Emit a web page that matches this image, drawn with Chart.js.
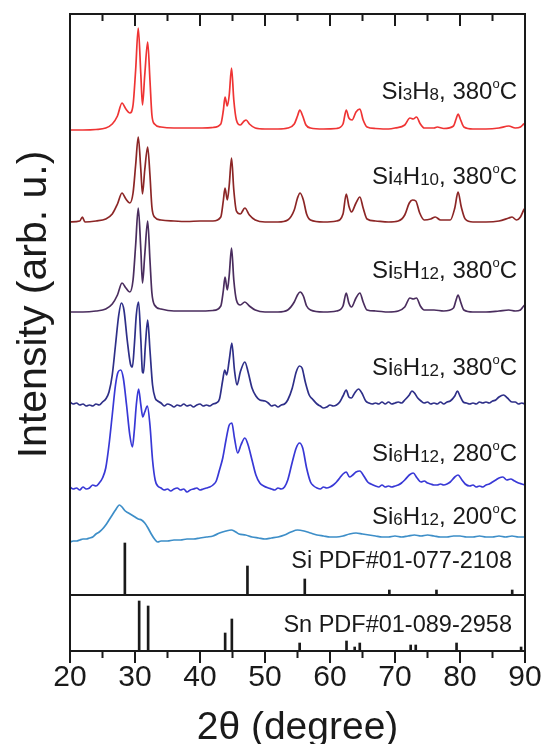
<!DOCTYPE html>
<html>
<head>
<meta charset="utf-8">
<title>XRD patterns</title>
<script src="https://cdn.jsdelivr.net/npm/chart.js@4.4.0/dist/chart.umd.min.js"></script>
<style>
  html, body { margin: 0; padding: 0; background: #fff; }
</style>
</head>
<body>
<canvas id="xrd" width="544" height="744"></canvas>
<script>
// 2theta (degree), intensity (arb. u., stacked offsets included)
const si3h8_380 = [[20,465],[22,465],[24,465.5],[25.5,467],[26.5,471],[27.3,479],[28,492],[28.6,486],[29.2,482],[29.7,490],[30.1,525],[30.5,567],[30.9,520],[31.15,490],[31.5,520],[31.95,553],[32.3,515],[32.6,480],[33,471],[34,468],[36,467],[38,467],[40,467],[42,467.5],[43.2,471],[43.6,485],[43.85,498],[44.2,489],[44.5,500],[44.85,527],[45.2,495],[45.6,475],[46.2,470],[46.8,474],[47.1,475],[47.6,471],[48.5,467],[50,466],[52,466],[53.5,467],[54.5,471],[55,479],[55.35,485],[55.8,479],[56.3,470],[57,467],[59,466],[61,466.5],[62,471],[62.5,485],[62.9,477],[63.4,475],[64,483],[64.6,486],[65.1,475],[65.7,468],[67,466.5],[69,466],[70,467],[71.5,470],[72.3,477],[72.8,476],[73.3,478],[73.9,471],[74.5,467],[76,467],[76.5,468],[77.5,466.5],[79,469],[79.4,476],[79.7,481],[80.1,475],[80.6,468],[82,466],[84,466],[86,467],[87.5,469],[88.5,467],[89.3,468],[89.8,471],[90,472]];

const si4h10_380 = [[20,373],[21.5,374],[21.9,378],[22.3,373],[24,374],[25.5,376],[26.5,381],[27.3,391],[28,402],[28.6,396],[29.2,392],[29.7,402],[30.1,430],[30.5,458],[30.9,425],[31.15,401],[31.5,425],[31.95,448],[32.3,420],[32.6,388],[33,378],[34,375],[36,374],[38,373.5],[40,374],[42,374],[43.2,378],[43.6,395],[43.85,407],[44.2,395],[44.5,410],[44.85,437],[45.2,405],[45.6,384],[46.2,381],[46.9,387],[47.6,380],[48.5,375],[50,373],[52,373],[53.5,375],[54.5,385],[55,397],[55.4,402],[55.9,395],[56.4,381],[57,375],[59,373],[61,374],[62,381],[62.5,401],[62.9,389],[63.3,383],[64,392],[64.6,398],[65.1,387],[65.7,376],[67,374],[69,373],[70.5,374],[71.5,380],[72.2,392],[72.7,395],[73.2,394],[73.8,382],[74.5,375],[75.5,376],[76.2,378],[77,375],[78.5,375],[79.2,387],[79.7,403],[80.2,388],[80.8,376],[82,373],[84,373],[86,374],[87.5,377],[88,378],[88.7,375],[89.3,378],[89.8,385],[90,387]];

const si5h12_380 = [[20,283],[22,283],[24,284],[25.5,286],[26.5,291],[27.3,300],[28,312],[28.6,307],[29.2,303],[29.7,315],[30.1,350],[30.5,387],[30.9,345],[31.15,312],[31.5,340],[31.95,374],[32.3,335],[32.6,302],[33,290],[34,286],[36,284],[38,284],[40,284],[42,284.5],[43.2,289],[43.6,305],[43.85,318],[44.2,305],[44.5,320],[44.85,347],[45.2,315],[45.6,295],[46.2,290],[46.9,293],[47.6,289],[48.5,285],[50,283],[52,283],[53.5,285],[54.5,293],[55,300],[55.4,303],[55.9,299],[56.4,289],[57,285],[59,283],[61,284],[62,289],[62.5,302],[62.9,292],[63.3,288],[64,297],[64.6,302],[65.1,293],[65.7,285],[67,284],[69,283],[70.5,284],[71.5,288],[72.3,297],[72.8,296],[73.3,297],[73.9,289],[74.5,285],[76,285],[77.5,284],[79,287],[79.4,295],[79.7,300],[80.1,293],[80.6,285],[82,283],[84,283],[86,284],[87.5,285],[88.5,284],[89.3,285],[89.8,289],[90,290]];

const si6h12_380 = [[20,193],[20.5,191],[21,192],[21.5,190],[22,191],[22.5,189],[23,190],[23.5,189],[24,191],[24.5,190],[25,193],[25.5,196],[26,203],[26.5,220],[27,250],[27.5,280],[27.9,292],[28.3,285],[28.8,255],[29.3,231],[29.6,228],[29.9,250],[30.2,280],[30.55,293],[30.9,255],[31.15,223],[31.3,222],[31.6,250],[31.95,275],[32.3,245],[32.7,210],[33.1,197],[33.5,194],[34,192],[34.5,189],[35,191],[35.5,190],[36,188],[36.5,190],[37,189],[37.5,191],[38,189],[38.5,190],[39,188],[39.5,190],[40,191],[40.5,189],[41,190],[41.5,189],[42,191],[42.5,192],[43,196],[43.5,215],[43.8,225],[44.1,220],[44.5,235],[44.9,252],[45.3,225],[45.7,210],[46.2,223],[46.9,233],[47.4,223],[48,207],[48.6,199],[49.2,195],[50,194],[50.5,192],[51,189],[51.5,190],[52,188],[52.5,190],[53,191],[53.5,195],[54.2,207],[54.8,223],[55.3,229],[55.7,227],[56.2,213],[56.8,200],[57.3,196],[58,191],[58.5,189],[59,187],[59.5,188],[60,190],[60.5,189],[61,190],[61.5,193],[62,199],[62.5,205],[62.9,198],[63.3,197],[63.8,202],[64.4,206],[64.9,202],[65.5,194],[66,192],[66.5,191],[67,192],[67.5,191],[68,193],[68.5,191],[69,193],[69.5,191],[70,192],[70.5,193],[71,192],[71.5,195],[72.2,200],[72.6,204],[73,202],[73.5,197],[74,194],[74.5,192],[75,193],[75.5,191],[76,192],[76.5,191],[77,193],[77.5,191],[78,193],[78.5,194],[79.2,199],[79.6,204],[80,199],[80.5,193],[81,192],[81.5,191],[82,192],[82.5,191],[83,193],[83.5,192],[84,193],[84.5,192],[85,194],[85.5,195],[86,198],[86.7,200],[87.3,197],[88,193],[88.5,193],[89,191],[89.5,192],[90,191]];

const si6h12_280 = [[20,108],[20.5,106],[21,107],[21.5,105],[22,108],[22.5,106],[23,107],[23.5,110],[24,109],[24.5,112],[25,117],[25.5,127],[26,150],[26.5,180],[27,210],[27.4,223],[27.8,225],[28.2,217],[28.7,190],[29.2,160],[29.6,148],[29.9,165],[30.2,190],[30.55,206],[30.9,190],[31.2,178],[31.5,183],[31.9,189],[32.3,170],[32.7,135],[33.1,115],[33.5,109],[34,107],[34.5,105],[35,106],[35.5,104],[36,106],[36.5,107],[37,105],[37.5,106],[38,103],[38.5,105],[39,106],[39.5,107],[40,105],[40.5,106],[41,107],[41.5,108],[42,110],[42.5,114],[43,125],[43.5,137],[44,155],[44.5,170],[44.9,172],[45.3,157],[45.8,142],[46.3,150],[46.9,157],[47.4,150],[48,135],[48.6,120],[49.2,112],[49.8,109],[50.5,107],[51,106],[51.5,105],[52,107],[52.5,106],[53,108],[53.5,115],[54.2,133],[54.8,147],[55.3,152],[55.8,147],[56.4,127],[57,113],[57.5,109],[58,107],[58.5,106],[59,108],[59.5,107],[60,108],[60.5,110],[61,113],[61.5,117],[62,121],[62.5,123],[63,118],[63.5,120],[64,123],[64.6,124],[65.2,119],[65.8,113],[66.3,111],[67,109],[67.5,108],[68,110],[68.5,108],[69,109],[69.5,108],[70,109],[70.5,110],[71,112],[71.5,115],[72.2,120],[72.8,122],[73.4,117],[74,113],[74.5,114],[75,112],[75.5,111],[76,110],[76.5,110],[77,111],[77.5,110],[78,111],[78.5,113],[79.2,118],[79.7,120],[80.3,115],[80.8,111],[81.5,109],[82,110],[82.5,108],[83,109],[83.5,108],[84,110],[84.5,111],[85,113],[85.5,115],[86,117],[86.6,118],[87.2,115],[87.8,116],[88.4,114],[89,112],[89.5,111],[90,110]];

const si6h12_200 = [[20,53],[20.5,54],[21,54],[21.5,55],[22,56],[22.5,56],[23,57],[23.5,58],[24,61],[24.5,63],[25,66],[25.5,70],[26,75],[26.5,80],[27,85],[27.6,90],[28,88],[28.5,84],[29,82],[29.5,80],[30,78],[30.5,76],[31,75],[31.5,72],[32,67],[32.5,61],[33,56],[33.5,53],[34,54],[35,54],[36,55],[37,55],[38,56],[39,56],[40,57],[41,58],[42,59],[43,62],[44,64],[44.8,65],[45.5,63],[46,61],[47,60],[48,58],[49,57],[50,56],[51,57],[52,58],[53,60],[54,63],[55,65],[56,64],[57,62],[58,60],[59,59],[60,58],[61,58],[62,59],[63,61],[64,62],[65,61],[66,60],[67,59],[68,58],[69,58],[70,59],[71,58],[72,59],[73,60],[74,59],[75,60],[76,59],[77,58],[78,58],[79,59],[80,59],[81,58],[82,58],[83,59],[84,58],[85,58],[86,59],[87,58],[88,59],[89,58],[90,58]];

// reference stick patterns: [2theta, relative height]
const siPdf = [[28.44,52],[47.30,29],[56.12,16],[69.13,5],[76.38,5],[88.03,5]];
const snPdf = [[30.64,50],[32.02,45],[43.87,18],[44.90,32],[55.33,8],[62.54,10],[63.80,4],[64.58,8],[72.41,6],[73.19,6],[79.47,8],[89.40,4]];

const traceNames = ['Si3H8, 380°C', 'Si4H10, 380°C', 'Si5H12, 380°C', 'Si6H12, 380°C', 'Si6H12, 280°C', 'Si6H12, 200°C'];
// label pieces: "_" = subscript, "^" = superscript
const traceLabels = [
  ['Si', '_3', 'H', '_8', ', 380', '^o', 'C'],
  ['Si', '_4', 'H', '_10', ', 380', '^o', 'C'],
  ['Si', '_5', 'H', '_12', ', 380', '^o', 'C'],
  ['Si', '_6', 'H', '_12', ', 380', '^o', 'C'],
  ['Si', '_6', 'H', '_12', ', 280', '^o', 'C'],
  ['Si', '_6', 'H', '_12', ', 200', '^o', 'C']
];
const pdfLabels = ['Si PDF#01-077-2108', 'Sn PDF#01-089-2958'];
const xTicks = [20, 30, 40, 50, 60, 70, 80, 90];

const traces = [si3h8_380, si4h10_380, si5h12_380, si6h12_380, si6h12_280, si6h12_200];
const colors = ['#ef3434', '#8c2626', '#4a2d5e', '#2e2f88', '#3838d6', '#3d8ec8'];
const FONT = '"Liberation Sans", Arial, sans-serif';
const INK = '#1a1a1a';

const toPts = arr => arr.map(([x, y]) => ({ x, y }));

const datasets = traces.map((t, i) => ({
  type: 'line',
  label: traceNames[i],
  data: toPts(t),
  borderColor: colors[i],
  borderWidth: 1.7,
  pointRadius: 0,
  cubicInterpolationMode: 'monotone',
  yAxisID: 'y'
}));
datasets.push({
  type: 'bar', label: pdfLabels[0], data: toPts(siPdf),
  backgroundColor: INK, barThickness: 2, grouped: false, yAxisID: 'y'
});
datasets.push({
  type: 'bar', label: pdfLabels[1], data: toPts(snPdf),
  backgroundColor: INK, barThickness: 2, grouped: false, yAxisID: 'ySn'
});

function drawRich(ctx, parts, right, cy, size) {
  const segs = parts.map(p => {
    if (p[0] === '_') return { t: p.slice(1), f: Math.round(size * 0.7), dy: 1 };
    if (p[0] === '^') return { t: p.slice(1), f: Math.round(size * 0.55), dy: -size * 0.44 };
    return { t: p, f: size, dy: 0 };
  });
  let w = 0;
  segs.forEach(s => {
    ctx.font = s.f + 'px ' + FONT;
    s.w = ctx.measureText(s.t).width;
    w += s.w;
  });
  let x = right - w;
  const base = cy + size * 0.36;
  segs.forEach(s => {
    ctx.font = s.f + 'px ' + FONT;
    ctx.fillText(s.t, x, base + s.dy);
    x += s.w;
  });
}

const framePlugin = {
  id: 'frame',
  afterDraw(chart) {
    const { ctx, chartArea: a, scales: { x, y, ySn } } = chart;
    ctx.save();
    ctx.strokeStyle = INK;
    ctx.lineWidth = 2;
    ctx.strokeRect(a.left, a.top, a.right - a.left, a.bottom - a.top);
    ctx.beginPath();
    const sep = y.getPixelForValue(0);
    ctx.moveTo(a.left, sep);
    ctx.lineTo(a.right, sep);
    for (let v = 20; v <= 90; v += 5) {
      const px = x.getPixelForValue(v);
      const len = v % 10 === 0 ? 12 : 7;
      ctx.moveTo(px, a.top);
      ctx.lineTo(px, a.top + len);
      ctx.moveTo(px, a.bottom);
      ctx.lineTo(px, a.bottom + len);
    }
    ctx.stroke();

    ctx.fillStyle = INK;
    ctx.textAlign = 'left';
    ctx.textBaseline = 'alphabetic';
    const levels = [505, 420, 326, 229, 143, 80];
    const right = x.getPixelForValue(88.77);
    traceLabels.forEach((parts, i) => {
      drawRich(ctx, parts, right, y.getPixelForValue(levels[i]), 24);
    });
    const pdfRight = x.getPixelForValue(88.0);
    drawRich(ctx, [pdfLabels[0]], pdfRight, y.getPixelForValue(35), 23.5);
    drawRich(ctx, [pdfLabels[1]], pdfRight, ySn.getPixelForValue(27), 23.5);
    ctx.restore();
  }
};

new Chart(document.getElementById('xrd'), {
  type: 'line',
  data: { datasets },
  options: {
    responsive: false,
    animation: false,
    layout: { padding: { top: 14, right: 19, left: 0, bottom: 0 } },
    plugins: { legend: { display: false }, tooltip: { enabled: false } },
    scales: {
      x: {
        type: 'linear', min: 20, max: 90, offset: false,
        grid: { display: false }, border: { display: false },
        afterBuildTicks(scale) { scale.ticks = xTicks.map(v => ({ value: v })); },
        ticks: { padding: 1, color: INK, font: { family: FONT, size: 30 } },
        title: { display: true, text: '2θ (degree)', color: INK, padding: 0,
                 font: { family: FONT, size: 39, lineHeight: 0.8 } },
        afterFit(scale) { scale.height = 93; }
      },
      y: {
        type: 'linear', position: 'left', stack: 'xrd', stackWeight: 581, weight: 1,
        min: 0, max: 581,
        grid: { display: false }, border: { display: false },
        ticks: { display: false },
        title: { display: true, text: 'Intensity (arb. u.)', color: INK,
                 padding: { top: 14, bottom: 0 }, font: { family: FONT, size: 41, lineHeight: 1 } },
        afterFit(scale) { scale.width = 70; }
      },
      ySn: {
        type: 'linear', position: 'left', stack: 'xrd', stackWeight: 56, weight: 0,
        min: 0, max: 56,
        grid: { display: false }, border: { display: false },
        ticks: { display: false },
        afterFit(scale) { scale.width = 70; }
      }
    }
  },
  plugins: [framePlugin]
});
</script>
</body>
</html>
